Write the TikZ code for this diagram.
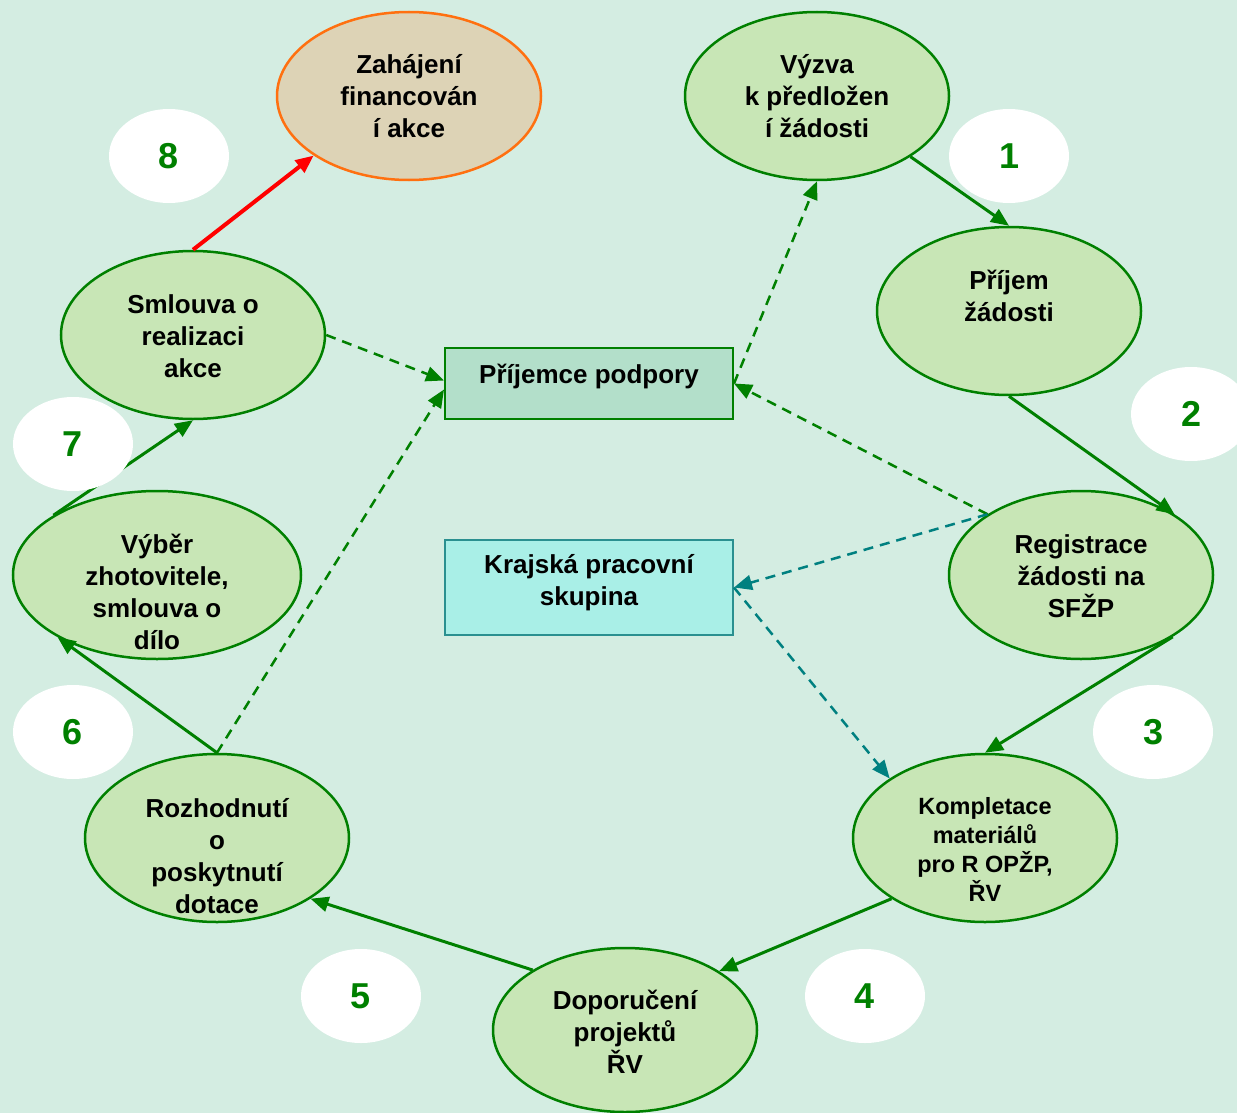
\documentclass[tikz,border=0pt]{standalone}
\usepackage{fontspec}
\setmainfont{Liberation Sans}
\usetikzlibrary{shapes.geometric,arrows.meta}
\definecolor{bgc}{HTML}{D4EDE2}
\definecolor{ellfill}{HTML}{C8E6B6}
\definecolor{ellline}{HTML}{008000}
\definecolor{tanfill}{HTML}{DDD3B6}
\definecolor{orangeline}{HTML}{FF7010}
\definecolor{recfill}{HTML}{B3DFCA}
\definecolor{kfill}{HTML}{A9EFE7}
\definecolor{kline}{HTML}{2A9090}
\definecolor{tealc}{HTML}{008080}
\tikzset{
  stepell/.style={ellipse, draw=ellline, fill=ellfill, line width=2.5pt, inner sep=0pt,
    minimum width=264pt, minimum height=168pt},
  steptxt/.style={align=center, inner sep=0pt, font=\fontsize{26}{32}\selectfont\bfseries},
  numell/.style={ellipse, fill=white, inner sep=0pt, minimum width=120pt, minimum height=94pt,
    text=ellline, font=\fontsize{36}{40}\selectfont\bfseries},
  tip/.style={-{Triangle[length=18pt,width=15pt]}},
  flowarr/.style={tip, draw=ellline, line width=3pt},
  dasharr/.style={tip, draw=ellline, line width=2.5pt, dash pattern=on 10pt off 7pt},
  tealarr/.style={tip, draw=tealc, line width=2.5pt, dash pattern=on 10pt off 7pt},
}
\begin{document}
\begin{tikzpicture}[x=1pt,y=-1pt]
\fill[bgc] (0,0) rectangle (1237,1113);
\useasboundingbox (0,0) rectangle (1237,1113);

% main ellipses
\node[stepell, draw=orangeline, fill=tanfill] (zah) at (409,96) {};
\node[stepell] (vyz) at (817,96) {};
\node[stepell] (pri) at (1009,311) {};
\node[stepell] (reg) at (1081,575) {};
\node[stepell] (kom) at (985,838) {};
\node[stepell, minimum height=164pt] (dop) at (625,1030) {};
\node[stepell] (roz) at (217,838) {};
\node[stepell, minimum width=288pt] (vyb) at (157,575) {};
\node[stepell] (sml) at (193,335) {};

% texts
\node[steptxt] (zaht) at (409,96) {Zahájení\\financován\\í akce};
\node[steptxt] (vyzt) at (817,96) {Výzva\\k předložen\\í žádosti};
\node[steptxt] (prit) at (1009,296) {Příjem\\žádosti};
\node[steptxt] (regt) at (1081,576) {Registrace\\žádosti na\\SFŽP};
\node[steptxt, font=\fontsize{23.5}{29}\selectfont\bfseries] (komt) at (985,849) {Kompletace\\materiálů\\pro R OPŽP,\\ŘV};
\node[steptxt] (dopt) at (625,1032) {Doporučení\\projektů\\ŘV};
\node[steptxt] (rozt) at (217,856) {Rozhodnutí\\o\\poskytnutí\\dotace};
\node[steptxt] (vybt) at (157,592) {Výběr\\zhotovitele,\\smlouva o\\dílo};
\node[steptxt] (smlt) at (193,336) {Smlouva o\\realizaci\\akce};

% boxes
\node[draw=ellline, fill=recfill, line width=2pt, minimum width=288pt, minimum height=71pt,
  inner sep=0pt] (prj) at (589,383.5) {};
\node[steptxt] (prjt) at (589,376) {Příjemce podpory};
\node[draw=kline, fill=kfill, line width=2pt, minimum width=288pt, minimum height=95pt,
  inner sep=0pt] (kps) at (589,587.5) {};
\node[steptxt] (kpst) at (589,583) {Krajská pracovní\\skupina};

% flow arrows
\draw[flowarr] (vyz.-33) -- (pri.north);
\draw[flowarr] (pri.south) -- (reg.33);
\draw[flowarr] (reg.-34) -- (kom.north);
\draw[flowarr] (kom.213) -- (dop.32.5);
\draw[flowarr] (dop.147) -- (roz.-33);
\draw[flowarr] (roz.north) -- (vyb.212);
\draw[flowarr] (vyb.150) -- (sml.south);
\draw[tip, draw=red, line width=4pt] (sml.north) -- (zah.212.4);

% dashed arrows
\draw[dasharr] (sml.east) -- ([yshift=3pt]prj.west);
\draw[dasharr] (roz.north) -- ([yshift=-6pt]prj.west);
\draw[dasharr] (prj.east) -- (vyz.south);
\draw[dasharr] (reg.147.5) -- (prj.east);
\draw[tealarr] (reg.147.5) -- (kps.east);
\draw[tealarr] (kps.east) -- (kom.148.6);

% numbers
\node[numell] (n8) at (169,156) {8};
\node[numell] (n1) at (1009,156) {1};
\node[numell] (n2) at (1191,414) {2};
\node[numell] (n3) at (1153,732) {3};
\node[numell] (n4) at (865,996) {4};
\node[numell] (n5) at (361,996) {5};
\node[numell] (n6) at (73,732) {6};
\node[numell] (n7) at (73,444) {7};
\end{tikzpicture}
\end{document}
